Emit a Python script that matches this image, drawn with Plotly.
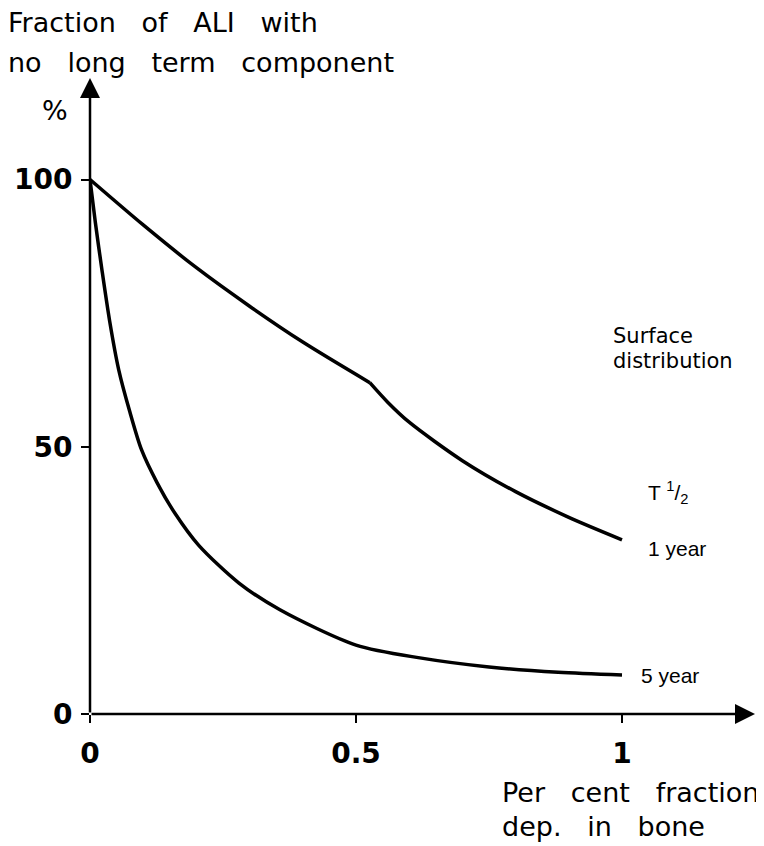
import plotly.graph_objects as go

# Data
x_ticks = [0, 0.5, 1]
x_ticklabels = ["0", "0.5", "1"]
y_ticks = [0, 50, 100]
y_ticklabels = ["0", "50", "100"]

# 1 year half-life curve (two pieces joined at the kink)
one_year_x_a = [0.0, 0.1, 0.2, 0.3, 0.4, 0.526]
one_year_y_a = [100, 91.5, 83.5, 76.3, 69.6, 62.0]
one_year_x_b = [0.526, 0.56, 0.6, 0.7, 0.8, 0.9, 1.0]
one_year_y_b = [62.0, 58.3, 54.6, 47.4, 41.6, 36.8, 32.6]

# 5 year half-life curve
five_year_x = [0.0, 0.01, 0.0226, 0.037, 0.054, 0.075, 0.097, 0.126, 0.16, 0.204,
               0.28, 0.357, 0.5, 0.62, 0.75, 0.88, 1.0]
five_year_y = [100, 92, 83, 73.5, 64.4, 56.5, 49.4, 43.3, 37.5, 31.6,
               24.5, 19.5, 12.9, 10.5, 8.8, 7.8, 7.3]

line_style = dict(color="black", width=3.5)

fig = go.Figure()
for xs, ys in [(one_year_x_a, one_year_y_a), (one_year_x_b, one_year_y_b),
               (five_year_x, five_year_y)]:
    fig.add_trace(go.Scatter(x=xs, y=ys, mode="lines",
                             line=dict(**line_style, shape="spline", smoothing=0.8),
                             showlegend=False, hoverinfo="skip"))

tickfont = dict(family="DejaVu Sans", size=28, color="black", weight="bold")

fig.update_xaxes(range=[0, 1.25], tickvals=x_ticks, ticktext=x_ticklabels,
                 ticks="outside", ticklen=8, tickwidth=2, tickcolor="black",
                 showgrid=False, zeroline=False, showline=False, automargin=False,
                 tickfont=tickfont, ticklabelstandoff=6)
fig.update_yaxes(range=[0, 119], tickvals=y_ticks, ticktext=y_ticklabels,
                 ticks="outside", ticklen=8, tickwidth=2, tickcolor="black",
                 showgrid=False, zeroline=False, showline=False, automargin=False,
                 tickfont=tickfont, ticklabelstandoff=3)

# Axis arrows
arrow_common = dict(xref="x", yref="y", axref="x", ayref="y", text="",
                    showarrow=True, arrowhead=2, arrowsize=1.6, arrowwidth=2.5,
                    arrowcolor="black")
fig.add_annotation(x=0, y=119, ax=0, ay=0, **arrow_common)
fig.add_annotation(x=1.25, y=0, ax=0, ay=0, **arrow_common)

# Page has an 8px body margin; the figure is sized to fit inside it
OFF = 8
W, H = 764 - OFF, 846 - OFF
L, R, T, B = 82, 9, 70, 132
PW, PH = W - L - R, H - T - B

fig.update_layout(
    width=W, height=H,
    margin=dict(l=L, r=R, t=T, b=B),
    plot_bgcolor="white", paper_bgcolor="white",
    showlegend=False,
)


def px_text(text, px, py, font, xanchor="left", yanchor="middle"):
    """Place text at page pixel coordinates (px, py)."""
    fx, fy = px - OFF, py - OFF
    fig.add_annotation(x=(fx - L) / PW, y=(H - B - fy) / PH, xref="paper", yref="paper",
                       text=text, showarrow=False, font=font,
                       xanchor=xanchor, yanchor=yanchor, align="left")


label_font = dict(family="DejaVu Sans", size=27, color="black")
small_font = dict(family="Liberation Sans", size=21, color="black")
surf_font = dict(family="DejaVu Sans", size=21, color="black")
sp = "\u00a0\u00a0\u00a0"

px_text("Fraction" + sp + "of" + sp + "ALI" + sp + "with", 6, 22, label_font)
px_text("no" + sp + "long" + sp + "term" + sp + "component", 6, 62, label_font)
px_text("%", 40, 110, label_font)
px_text("Per" + sp + "cent" + sp + "fraction", 500, 792, label_font)
px_text("dep." + sp + "in" + sp + "bone", 500, 826, label_font)

px_text("Surface", 611, 336, surf_font)
px_text("distribution", 611, 361, surf_font)
px_text("T <sup>1</sup>/<sub>2</sub>", 646, 492, small_font)
px_text("1 year", 646, 548, small_font)
px_text("5 year", 639, 675, small_font)

fig.write_html("out.html")
